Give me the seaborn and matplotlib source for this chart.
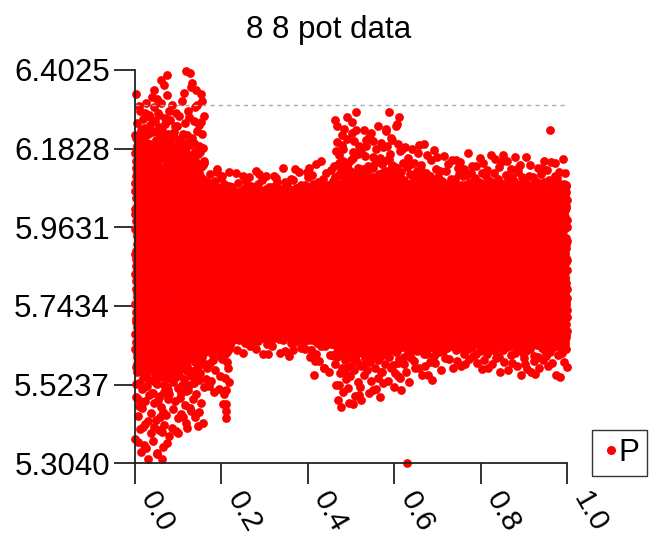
import numpy as np
import pandas as pd
import seaborn as sns
import matplotlib.pyplot as plt

# y tick values (as printed)
y_ticks = [5.3040, 5.5237, 5.7434, 5.9631, 6.1828, 6.4025]
x_ticks = [0.0, 0.2, 0.4, 0.6, 0.8, 1.0]
ref_level = 6.305

# the cloud is far too dense to read point by point, so it is described by
# the band edges for each x slice
bin_lo = [0.00, 0.04, 0.08, 0.12, 0.16, 0.20, 0.22, 0.30, 0.40, 0.46, 0.52, 0.58, 0.62, 0.70, 0.80, 0.90]
bin_hi = [0.04, 0.08, 0.12, 0.16, 0.20, 0.22, 0.30, 0.40, 0.46, 0.52, 0.58, 0.62, 0.70, 0.80, 0.90, 1.00]
core_lo = [5.58, 5.56, 5.58, 5.61, 5.64, 5.64, 5.66, 5.66, 5.65, 5.62, 5.62, 5.63, 5.63, 5.64, 5.64, 5.64]
core_hi = [6.22, 6.19, 6.17, 6.13, 6.07, 6.06, 6.06, 6.07, 6.07, 6.10, 6.10, 6.09, 6.08, 6.08, 6.08, 6.08]
outer_lo = [5.31, 5.32, 5.38, 5.40, 5.50, 5.44, 5.60, 5.60, 5.55, 5.46, 5.48, 5.50, 5.53, 5.56, 5.55, 5.54]
outer_hi = [6.34, 6.39, 6.34, 6.38, 6.15, 6.12, 6.12, 6.13, 6.15, 6.29, 6.25, 6.29, 6.20, 6.17, 6.17, 6.16]

# isolated points
extra_x = [0.63, 0.96, 0.118, 0.128, 0.21, 0.21, 0.21, 0.063, 0.05]
extra_y = [5.305, 6.235, 6.40, 6.395, 5.43, 5.45, 5.47, 5.315, 5.33]


def halton(i, base):
    f, r = 1.0, np.zeros(len(i))
    i = i.copy()
    while np.any(i > 0):
        f /= base
        r += f * (i % base)
        i //= base
    return r


def fill(n, x0, x1, lo, hi, power, start):
    i = np.arange(start + 1, start + n + 1)
    x = x0 + (x1 - x0) * halton(i, 2)
    v = halton(i, 3)
    return x, lo + (hi - lo) * v ** power


centers = [(a + b) / 2 for a, b in zip(bin_lo, bin_hi)]
xs, ys = [], []
k = 0
for a, b, cl, ch, ol, oh in zip(bin_lo, bin_hi, core_lo, core_hi, outer_lo, outer_hi):
    w = b - a
    n = int(w * 7000)
    px, _ = fill(n, a, b, 0, 1, 1, k)
    v = halton(np.arange(k + 1, k + n + 1), 3)
    lo = np.interp(px, centers, core_lo)
    hi = np.interp(px, centers, core_hi)
    xs.append(px); ys.append(lo + (hi - lo) * v); k += n
    n = int(w * 380 * (oh - ch) / 0.1 + 1)
    px, py = fill(n, a, b, ch, oh, 2.0, k)
    xs.append(px); ys.append(py); k += n
    n = int(w * 380 * (cl - ol) / 0.1 + 1)
    px, py = fill(n, a, b, cl, ol, 2.0, k)
    xs.append(px); ys.append(py); k += n
xs.append(np.array(extra_x)); ys.append(np.array(extra_y))

df = pd.DataFrame({"x": np.concatenate(xs), "y": np.concatenate(ys)})

sns.set_style("ticks")
plt.rcParams["font.family"] = ["Liberation Sans", "DejaVu Sans"]

fig = plt.figure(figsize=(6.58, 5.38), dpi=100)
ax = fig.add_axes([0.205, 0.139, 0.657, 0.731])

sns.scatterplot(data=df, x="x", y="y", color="#ff0000", s=40, linewidth=0,
                clip_on=False, legend=False, ax=ax)
ax.axhline(ref_level, xmin=0, xmax=0.995, color="#aaaaaa", ls=(0, (3, 3)), lw=1)

ax.set_xlim(0, 1)
ax.set_ylim(y_ticks[0], y_ticks[-1])
ax.set_yticks(y_ticks)
ax.set_yticklabels([f"{t:.4f}" for t in y_ticks])
ax.set_xticks(x_ticks)
ax.set_xticklabels([f"{t:.1f}" for t in x_ticks], rotation=-60, ha="left")
ax.tick_params(axis="y", labelsize=22.5, length=15, width=1.3, pad=3,
               color="#222222", labelcolor="black")
ax.tick_params(axis="x", labelsize=21.5, length=15, width=1.3, pad=2,
               color="#222222", labelcolor="black")
ax.set_xlabel("")
ax.set_ylabel("")
sns.despine(ax=ax)
for s in ["left", "bottom"]:
    ax.spines[s].set_linewidth(1.3)
    ax.spines[s].set_color("#222222")

fig.text(0.5, 1 - 38 / 538, "8 8 pot data", fontsize=22.5, ha="center",
         va="baseline", color="black")

h = [plt.Line2D([], [], marker="o", ls="", color="#ff0000", markersize=5.5)]
leg = fig.legend(h, ["P"], loc="center left", bbox_to_anchor=(0.9, 0.158), fontsize=22.5,
                 frameon=True, fancybox=False, edgecolor="black", handletextpad=-0.1,
                 handlelength=0.7, borderpad=0.25, borderaxespad=0, labelcolor="black")
leg.get_frame().set_linewidth(1.0)

fig.savefig("out.png", dpi=100)
